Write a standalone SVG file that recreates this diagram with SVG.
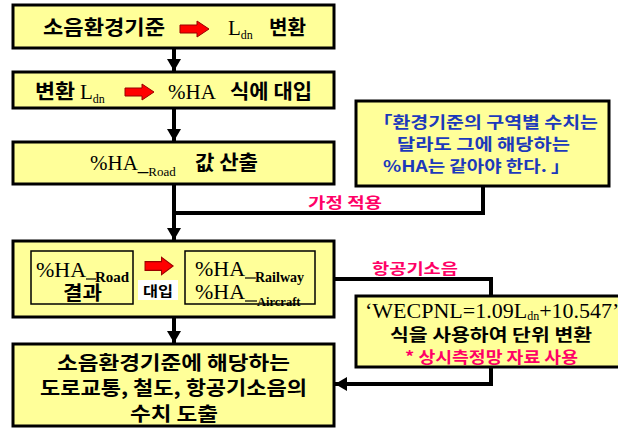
<svg xmlns="http://www.w3.org/2000/svg" xmlns:xlink="http://www.w3.org/1999/xlink" width="618" height="428" viewBox="0 0 618 428">
<style>
.box{fill:#FFFF99;stroke:#000;stroke-width:3}
.inner{fill:none;stroke:#000;stroke-width:1.5}
.kr{font-family:"Noto Sans CJK KR","Noto Sans",sans-serif;font-weight:bold;fill:#000}
.sf{font-family:"Liberation Serif","Noto Sans CJK KR",serif;fill:#000}
.pink{font-family:"Noto Sans CJK KR",sans-serif;font-weight:bold;fill:#FF0066}
.blue{font-family:"Noto Sans CJK KR",sans-serif;font-weight:bold;fill:#1c39bb}
.conn{fill:none;stroke:#000;stroke-width:4}
.red{fill:#FF0000;stroke:#990000;stroke-width:1}
</style>
<defs>
<marker id="ah" viewBox="0 0 12 14" refX="12" refY="7" markerWidth="12" markerHeight="14" markerUnits="userSpaceOnUse" orient="auto">
<path d="M0,0 L12,7 L0,14 Z" fill="#000"/>
</marker>
<path id="redArrow" d="M0,-4 H17 V-8 L29,0 L17,8 V4 H0 Z"/>
</defs>

<g id="connectors">
<line class="conn" x1="174" y1="49" x2="174" y2="71" marker-end="url(#ah)"/>
<line class="conn" x1="174" y1="108" x2="174" y2="141" marker-end="url(#ah)"/>
<line class="conn" x1="174" y1="185" x2="174" y2="240" marker-end="url(#ah)"/>
<polyline class="conn" points="483,187 483,213 172,213"/>
<line class="conn" x1="174" y1="318" x2="174" y2="343" marker-end="url(#ah)"/>
<polyline class="conn" points="335,279 491,279 491,296"/>
<polyline class="conn" points="491,367 491,384 335,384" marker-end="url(#ah)"/>
</g>

<g id="box1">
<rect class="box" x="13" y="5" width="321" height="43"/>
<text class="kr" x="43" y="35" font-size="20" textLength="122" lengthAdjust="spacingAndGlyphs">소음환경기준</text>
<use xlink:href="#redArrow" class="red" transform="translate(180,29)"/>
<text class="sf" x="228" y="35" font-size="21">L<tspan font-size="12" dy="4">dn</tspan></text>
<text class="kr" x="269" y="35" font-size="20" textLength="37" lengthAdjust="spacingAndGlyphs">변환</text>
</g>

<g id="box2">
<rect class="box" x="13" y="72" width="321" height="36"/>
<text class="kr" x="35" y="99" font-size="20" textLength="40" lengthAdjust="spacingAndGlyphs">변환</text>
<text class="sf" x="80" y="99" font-size="21">L<tspan font-size="12" dy="4">dn</tspan></text>
<use xlink:href="#redArrow" class="red" transform="translate(125,92)"/>
<text class="sf" x="168" y="99" font-size="21">%HA</text>
<text class="kr" x="230" y="99" font-size="20" textLength="82" lengthAdjust="spacingAndGlyphs">식에 대입</text>
</g>

<g id="box3">
<rect class="box" x="13" y="142" width="321" height="42"/>
<text class="sf" x="90" y="170" font-size="21">%HA_<tspan font-size="13" dy="6">Road</tspan></text>
<text class="kr" x="195" y="170" font-size="20" textLength="63" lengthAdjust="spacingAndGlyphs">값 산출</text>
</g>

<g id="note">
<rect class="box" x="356" y="101" width="253" height="85"/>
<text class="blue" x="373" y="128" font-size="16" textLength="225" lengthAdjust="spacingAndGlyphs">「환경기준의 구역별 수치는</text>
<text class="blue" x="397" y="150" font-size="16" textLength="173" lengthAdjust="spacingAndGlyphs">달라도 그에 해당하는</text>
<text class="blue" x="383" y="172" font-size="16" textLength="187" lengthAdjust="spacingAndGlyphs">%HA는 같아야 한다. 」</text>
</g>

<g id="label-assume">
<text class="pink" x="308" y="208" font-size="15" textLength="74" lengthAdjust="spacingAndGlyphs">가정 적용</text>
</g>

<g id="box4">
<rect class="box" x="13" y="241" width="321" height="76"/>
<g id="box4-road">
<rect class="inner" x="31" y="251" width="102" height="53"/>
<text class="sf" x="36" y="277" font-size="22">%HA</text>
<line x1="86" y1="279" x2="96" y2="279" stroke="#000" stroke-width="1.2"/>
<text class="sf" x="95" y="282" font-size="15" font-weight="bold">Road</text>
<text class="kr" x="63" y="300" font-size="19" textLength="39" lengthAdjust="spacingAndGlyphs">결과</text>
</g>
<use xlink:href="#redArrow" class="red" transform="translate(145,266) scale(0.97,1.1)"/>
<rect x="138" y="280" width="40" height="20" fill="#fff"/>
<text class="kr" x="143" y="296" font-size="14" textLength="30" lengthAdjust="spacingAndGlyphs">대입</text>
<g id="box4-other">
<rect class="inner" x="185" y="251" width="130" height="53"/>
<text class="sf" x="195" y="276" font-size="21" textLength="50" lengthAdjust="spacingAndGlyphs">%HA</text>
<line x1="245" y1="278" x2="256" y2="278" stroke="#000" stroke-width="1.2"/>
<text class="sf" x="255" y="282" font-size="14" font-weight="bold">Railway</text>
<text class="sf" x="195" y="299" font-size="21" textLength="50" lengthAdjust="spacingAndGlyphs">%HA</text>
<line x1="245" y1="301" x2="257" y2="301" stroke="#000" stroke-width="1.2"/>
<text class="sf" x="257" y="306" font-size="12.5" font-weight="bold">Aircraft</text>
</g>
</g>

<g id="label-aircraft">
<text class="pink" x="372" y="274" font-size="15" textLength="86" lengthAdjust="spacingAndGlyphs">항공기소음</text>
</g>

<g id="wecpnl">
<rect class="box" x="356" y="296" width="275" height="71"/>
<text class="sf" x="365" y="318" font-size="22">‘WECPNL=1.09L<tspan font-size="12" dy="2">dn</tspan><tspan dy="-2">+10.547’</tspan></text>
<text class="kr" x="390" y="341" font-size="17" font-weight="normal" textLength="202" lengthAdjust="spacingAndGlyphs">식을 사용하여 단위 변환</text>
<text class="pink" x="405" y="363" font-size="15.5" textLength="173" lengthAdjust="spacingAndGlyphs">* 상시측정망 자료 사용</text>
</g>

<g id="box5">
<rect class="box" x="13" y="344" width="321" height="82"/>
<text class="kr" x="57" y="370" font-size="19.5" textLength="233" lengthAdjust="spacingAndGlyphs">소음환경기준에 해당하는</text>
<text class="kr" x="40" y="395" font-size="19.5" textLength="267" lengthAdjust="spacingAndGlyphs">도로교통, 철도, 항공기소음의</text>
<text class="kr" x="130" y="421" font-size="19.5" textLength="88" lengthAdjust="spacingAndGlyphs">수치 도출</text>
</g>
</svg>
